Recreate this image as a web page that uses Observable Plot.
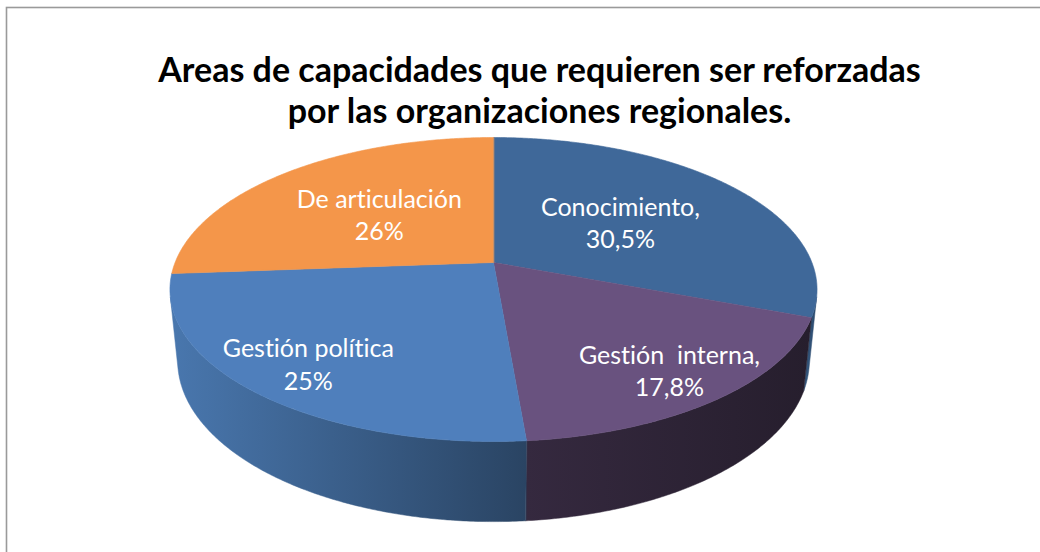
<!DOCTYPE html>
<html>
<head>
<meta charset="utf-8">
<script src="https://cdn.jsdelivr.net/npm/d3@7"></script>
<script src="https://cdn.jsdelivr.net/npm/@observablehq/plot@0.6"></script>
<style>
  html, body { margin: 0; padding: 0; background: #ffffff; overflow: hidden; }
  #chart { width: 1040px; height: 552px; }
  svg text { font-variant-ligatures: none; font-feature-settings: "liga" 0, "clig" 0; }
</style>
</head>
<body>
<div id="chart"></div>
<script>
// ---- data ----
const categories = ["Conocimiento", "Gestión interna", "Gestión política", "De articulación"];
const values = [30.5, 17.8, 25, 26];
const labelNames = ["Conocimiento,", "Gestión  interna,", "Gestión política", "De articulación"];
const valueLabels = ["30,5%", "17,8%", "25%", "26%"];
const titleLines = ["Areas de capacidades que requieren ser reforzadas", "por las organizaciones regionales."];

// ---- styles / layout ----
const topColors = ["#3F6899", "#69527F", "#4F7FBC", "#F4964A"];
const wallStops = [["#36597F", "#2C4A6E"], ["#35293F", "#261E2D"], ["#4977AE", "#2A4463"], ["#C9783A", "#A8612E"]];
const labelRadius = [0.51, 0.81, 0.80, 0.52];

// 3D view parameters (tilt, perspective distance, thickness)
const sa = 0.4623, ca = Math.sqrt(1 - sa * sa), dist = 4.99, thick = 0.255;
const rad = Math.PI / 180;

function proj(thetaDeg, h) {
  const t = thetaDeg * rad;
  const X = Math.sin(t), Z = -Math.cos(t);
  const v = Z * sa - h * ca;
  const w = Z * ca + h * sa;
  const f = 1 / (1 - w / dist);
  return [X * f, v * f];
}
function projR(thetaDeg, r) {
  const t = thetaDeg * rad;
  const X = r * Math.sin(t), Z = -r * Math.cos(t);
  const v = Z * sa, w = Z * ca;
  const f = 1 / (1 - w / dist);
  return [X * f, v * f];
}

const total = d3.sum(values);
const slices = [];
let acc = 0;
values.forEach((v, i) => {
  const a0 = acc / total * 360;
  acc += v;
  const a1 = acc / total * 360;
  slices.push({i, a0, a1});
});

// silhouette (visible wall) angle range
const cosT = -1 / (dist * ca);
const vis0 = Math.acos(cosT) / rad, vis1 = 360 - vis0;

const topRows = [];
const wallRows = [];
slices.forEach(s => {
  const key = "top" + s.i;
  topRows.push({key, x: 0, y: 0, c: topColors[s.i]});
  const n = Math.max(2, Math.ceil((s.a1 - s.a0) / 0.5));
  for (let k = 0; k <= n; k++) {
    const a = s.a0 + (s.a1 - s.a0) * k / n;
    const [x, y] = proj(a, 0);
    topRows.push({key, x, y, c: topColors[s.i]});
  }
  const b0 = Math.max(s.a0, vis0), b1 = Math.min(s.a1, vis1);
  if (b1 > b0) {
    const wkey = "wall" + s.i;
    const m = Math.max(2, Math.ceil((b1 - b0) / 0.5));
    const fill = `url(#wallGrad${s.i})`;
    for (let k = 0; k <= m; k++) {
      const a = b0 + (b1 - b0) * k / m;
      const [x, y] = proj(a, 0);
      wallRows.push({key: wkey, x, y, c: fill});
    }
    for (let k = m; k >= 0; k--) {
      const a = b0 + (b1 - b0) * k / m;
      const [x, y] = proj(a, -thick);
      wallRows.push({key: wkey, x, y, c: fill});
    }
  }
});

const labelRows = slices.map(s => {
  const [x, y] = projR((s.a0 + s.a1) / 2, labelRadius[s.i]);
  return {x, y, text: labelNames[s.i] + "\n" + valueLabels[s.i]};
});

const svg = Plot.plot({
  width: 1040,
  height: 552,
  margin: 0,
  x: {domain: [-1, 1], range: [174.6, 811.4], axis: null},
  y: {domain: [-1, 1], range: [-56.4, 580.4], axis: null},
  color: {type: "identity"},
  style: {fontFamily: "Lato, 'Open Sans', sans-serif", background: "#ffffff", overflow: "hidden"},
  marks: [
    Plot.frame({stroke: "#9a9a9a", strokeWidth: 1.6, insetLeft: 6, insetTop: 7, insetRight: -10, insetBottom: -10}),
    Plot.line(wallRows, {x: "x", y: "y", z: "key", fill: "c", stroke: "c", strokeWidth: 0.5, curve: "linear-closed"}),
    Plot.line(topRows, {x: "x", y: "y", z: "key", fill: "c", stroke: "c", strokeWidth: 0.6, curve: "linear-closed"}),
    Plot.text(labelRows, {x: "x", y: "y", text: "text", fill: "white", fontSize: 25, lineHeight: 1.3, fontFamily: "Lato, sans-serif"}),
    Plot.text([titleLines.join("\n")], {frameAnchor: "top", lineAnchor: "top", dx: 19, dy: 52, fontSize: 34, fontWeight: "bold", lineHeight: 1.21, fill: "#000000", fontFamily: "Lato, sans-serif"})
  ]
});

const defs = d3.select(svg).insert("defs", ":first-child");
wallStops.forEach((st, i) => {
  const g = defs.append("linearGradient").attr("id", "wallGrad" + i)
    .attr("x1", 0).attr("y1", 0).attr("x2", 1).attr("y2", 0);
  g.append("stop").attr("offset", "0%").attr("stop-color", st[0]);
  g.append("stop").attr("offset", "100%").attr("stop-color", st[1]);
});

document.getElementById("chart").appendChild(svg);
</script>
</body>
</html>
